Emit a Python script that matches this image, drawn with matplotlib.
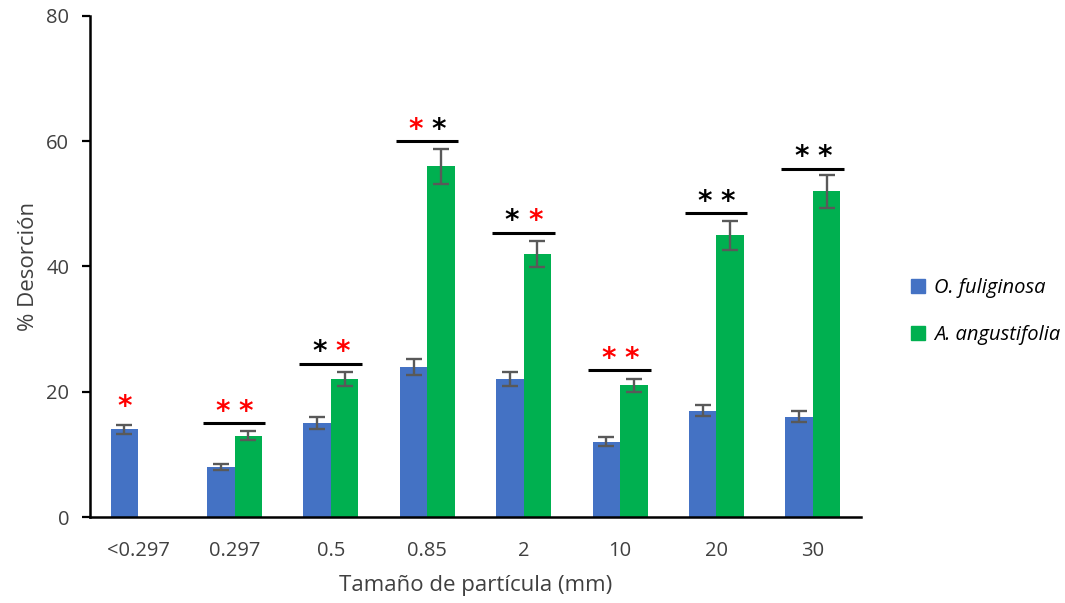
import matplotlib.pyplot as plt
from matplotlib.patches import Patch
import numpy as np

categories = ['<0.297', '0.297', '0.5', '0.85', '2', '10', '20', '30']
fuliginosa = [14, 8, 15, 24, 22, 12, 17, 16]
fuliginosa_err = [0.7, 0.5, 0.9, 1.3, 1.1, 0.7, 0.9, 0.9]
angustifolia = [np.nan, 13, 22, 56, 42, 21, 45, 52]
angustifolia_err = [np.nan, 0.7, 1.1, 2.8, 2.1, 1.1, 2.3, 2.6]

# significance bar heights and asterisk colours (left, right) per category
sig_heights = [None, 15, 24.5, 60, 45.4, 23.4, 48.5, 55.6]
sig_colors = [('red',), ('red', 'red'), ('black', 'red'), ('red', 'black'),
              ('black', 'red'), ('red', 'red'), ('black', 'black'), ('black', 'black')]

plt.rcParams['font.family'] = ['Open Sans', 'DejaVu Sans']

fig = plt.figure(figsize=(10.65, 6.03), dpi=100)
ax = fig.add_axes([0.0845, 0.1426, 0.724, 0.831])

x = np.arange(len(categories))
w = 0.285
blue = '#4472C4'
green = '#00B050'
err_kw = dict(ecolor='#595959', elinewidth=1.7, capsize=5.5, capthick=1.7)

ax.bar(x - w / 2, fuliginosa, w, color=blue, yerr=fuliginosa_err, error_kw=err_kw)
ax.bar(x + w / 2, angustifolia, w, color=green, yerr=angustifolia_err, error_kw=err_kw)

star_kw = dict(fontsize=20, fontweight='bold', ha='center', va='center',
               family='DejaVu Sans')
for i, h in enumerate(sig_heights):
    cols = sig_colors[i]
    if h is None:
        ax.text(x[i] - w / 2, 17.6, '*', color=cols[0], **star_kw)
        continue
    ax.plot([x[i] - 0.33, x[i] + 0.32], [h, h], color='black', lw=2.2,
            solid_capstyle='butt')
    ax.text(x[i] - 0.12, h + 1.8, '*', color=cols[0], **star_kw)
    ax.text(x[i] + 0.12, h + 1.8, '*', color=cols[1], **star_kw)

ax.set_xlim(-0.5, len(categories) - 0.5)
ax.set_ylim(0, 80)
ax.set_yticks([0, 20, 40, 60, 80])
ax.set_xticks(x)
ax.set_xticklabels(categories)
ax.tick_params(axis='x', length=0, pad=17, labelsize=14.5, labelcolor='#404040')
ax.tick_params(axis='y', length=6, width=1.6, pad=9, labelsize=14.5, labelcolor='#404040')

for side in ['top', 'right']:
    ax.spines[side].set_visible(False)
for side in ['left', 'bottom']:
    ax.spines[side].set_linewidth(1.8)

ax.set_xlabel('Tamaño de partícula (mm)', fontsize=16, color='#404040', labelpad=10)
ax.set_ylabel('% Desorción', fontsize=16, color='#404040', labelpad=5)

handles = [Patch(color=blue), Patch(color=green)]
fig.legend(handles, ['O. fuliginosa', 'A. angustifolia'], loc='center left',
           bbox_to_anchor=(0.846, 0.483), frameon=False, borderpad=0,
           handlelength=0.7, handleheight=0.7, handletextpad=0.45,
           labelspacing=1.35, prop={'style': 'italic', 'size': 14.5})

plt.savefig('out.png', dpi=100)
plt.close()
